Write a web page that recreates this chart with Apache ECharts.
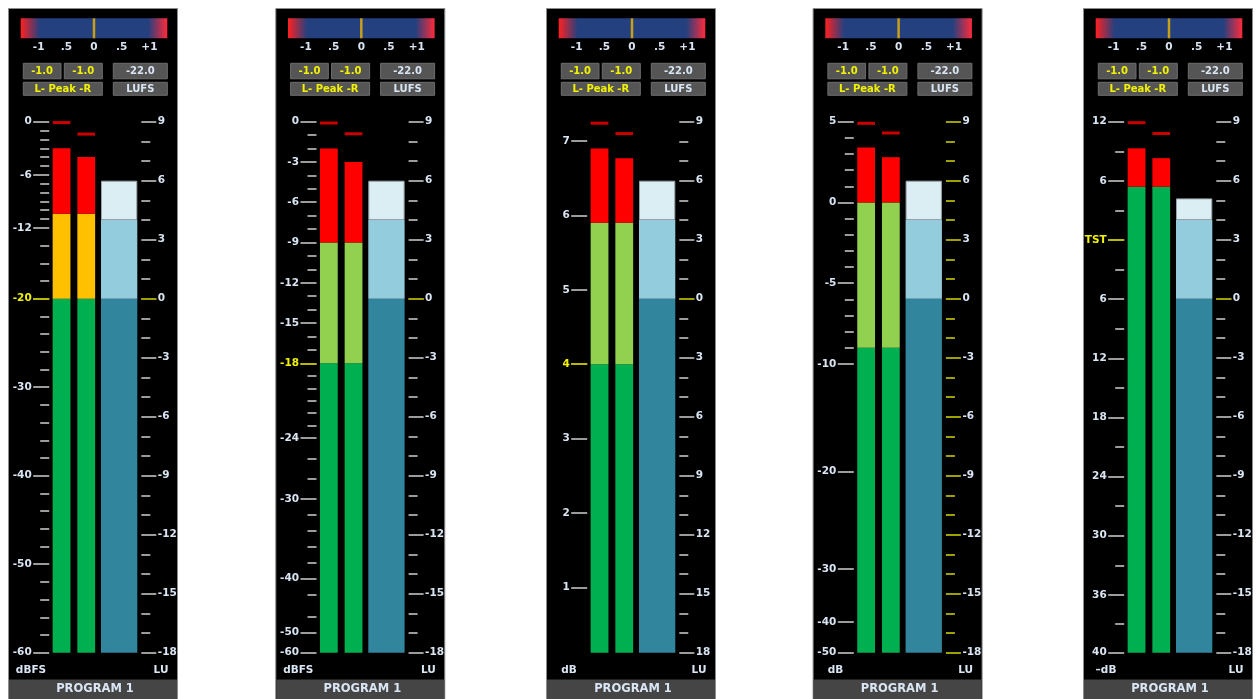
<!DOCTYPE html>
<html>
<head>
<meta charset="utf-8">
<title>Loudness meters</title>
<script src="https://cdn.jsdelivr.net/npm/echarts@6.0.0/dist/echarts.min.js"></script>
<style>
html,body{margin:0;padding:0;background:#ffffff;}
#chart{width:1257px;height:699px;}
</style>
</head>
<body>
<div id="chart"></div>
<script>
// ======================= DATA =======================
const programNames = ['PROGRAM 1', 'PROGRAM 1', 'PROGRAM 1', 'PROGRAM 1', 'PROGRAM 1'];
const leftUnits = ['dBFS', 'dBFS', 'dB', 'dB', '\u2013dB'];
const rightUnits = ['LU', 'LU', 'LU', 'LU', 'LU'];

// Peak-meter scale laws: scale value -> fraction of meter height
const scale1Marks = [-60, 0];
const scale1Frac  = [0, 1];
const scale2Marks = [-60, -50, -40, -30, -24, -18, 0];
const scale2Frac  = [0, 0.038, 0.140, 0.289, 0.404, 0.545, 1];
const scale3Marks = [0.12, 7.26];
const scale3Frac  = [0, 1];
const scale4Marks = [-50, -40, -30, -20, -10, 5];
const scale4Frac  = [0, 0.058, 0.158, 0.341, 0.544, 1];
const scale5Marks = [-40, -36, 12];
const scale5Frac  = [0, 0.109, 1];

// Labelled marks of each peak scale
const labels1 = [0, -6, -12, -20, -30, -40, -50, -60];
const labels2 = [0, -3, -6, -9, -12, -15, -18, -24, -30, -40, -50, -60];
const labels3 = [7, 6, 5, 4, 3, 2, 1];
const labels4 = [5, 0, -5, -10, -20, -30, -40, -50];
const labels5 = [12, 6, 0, -6, -12, -18, -24, -30, -36, -40];

// Unlabelled marks
const minor1 = [-1, -2, -3, -4, -5, -7, -8, -9, -10, -11, -14, -16, -18, -22, -24, -26, -28,
                -32, -34, -36, -38, -42, -44, -46, -48, -52, -54, -56, -58];
const minor2 = [-1, -2, -4, -5, -7, -8, -10, -11, -13, -14, -16, -17, -19, -20, -21, -22, -23,
                -26, -28, -32, -34, -36, -38, -43, -47];
const minor3 = [];
const minor4 = [4, 3, 2, 1, -1, -2, -3, -4, -6, -7, -8, -9];
const minor5 = [9, 3, -3, -9, -15, -21, -27, -33, -38];

// Reference level of each peak scale (yellow mark)
const refLevel = [-20, -18, 4, null, 0];
const refName  = [null, null, null, null, 'TST'];
const leftSigned  = [true, true, true, true, false];
const rightSigned = [true, true, false, true, true];

// Peak bars, peak holds and colour-zone limits (scale units)
const peakL = [-3, -2, 6.9, 3.4, 9.3];
const peakR = [-4, -3, 6.77, 2.8, 8.3];
const holdL = [-0.1, -0.1, 7.24, 4.9, 11.9];
const holdR = [-1.4, -0.9, 7.1, 4.3, 10.8];
const zoneLow  = [-20, -18, 4, -9, 5.4];
const zoneHigh = [-10.4, -9, 5.9, 0, 5.4];

// Loudness bar (LU)
const luLevel = [6, 6, 6, 6, 5.1];
const luMin = -18, luMax = 9, luStep = 3;
const luZoneLow = 0, luZoneHigh = 4;

// Correlation meter
const correlation = [0, 0, 0, 0, 0];
const corrTicks = [-1, -0.5, 0, 0.5, 1];
const corrTickText = ['-1', '.5', '0', '.5', '+1'];

// Read-outs
const readPeakL = ['-1.0', '-1.0', '-1.0', '-1.0', '-1.0'];
const readPeakR = ['-1.0', '-1.0', '-1.0', '-1.0', '-1.0'];
const readLufs  = ['-22.0', '-22.0', '-22.0', '-22.0', '-22.0'];
const readPeakTitle = 'L- Peak -R';
const readLufsTitle = 'LUFS';

// ======================= HELPERS =======================
const scaleMarks = [scale1Marks, scale2Marks, scale3Marks, scale4Marks, scale5Marks];
const scaleFracs = [scale1Frac, scale2Frac, scale3Frac, scale4Frac, scale5Frac];
const labelSets = [labels1, labels2, labels3, labels4, labels5];
const minorSets = [minor1, minor2, minor3, minor4, minor5];

function toFrac(p, v) {
  const m = scaleMarks[p], f = scaleFracs[p];
  if (v <= m[0]) return f[0];
  for (let i = 1; i < m.length; i++) {
    if (v <= m[i]) {
      const t = (v - m[i - 1]) / (m[i] - m[i - 1]);
      return f[i - 1] + t * (f[i] - f[i - 1]);
    }
  }
  return f[f.length - 1];
}

// ======================= LAYOUT / STYLE =======================
const OFFX = [0, 267.3, 538, 804.6, 1075];
const METER_TOP = 121.7, METER_H = 531;
const FONT = 'DejaVu Sans';
const TICK = '#9c9c9c';
const LABEL = '#d9e5f3';
const YEL_TXT = '#f2f200';
const YEL_TICK = '#b9b900';
const OLIVE = '#a0a000';
const C_GREEN = '#00B050', C_RED = '#FF0000';
const C_MID = ['#FFC000', '#92D050', '#92D050', '#92D050', '#92D050'];
const C_TEAL = '#31859C', C_LBLUE = '#93CDDD', C_PALE = '#DBEEF4';
const LFS = 10.5;

const grids = [], xAxes = [], yAxes = [], series = [], graphics = [];

for (let p = 0; p < 5; p++) {
  const dx = OFFX[p];
  // ---------- decorations ----------
  graphics.push({type: 'rect', z: -20, shape: {x: 8.5 + dx, y: 8.5, width: 169, height: 700},
    style: {fill: '#000000', stroke: '#8c8c8c', lineWidth: 1}});
  graphics.push({type: 'rect', z: -19, shape: {x: 20.7 + dx, y: 18.3, width: 146.6, height: 20},
    style: {fill: {type: 'linear', x: 0, y: 0, x2: 1, y2: 0, colorStops: [
      {offset: 0, color: '#ff2020'}, {offset: 0.13, color: '#24407f'},
      {offset: 0.87, color: '#24407f'}, {offset: 1, color: '#ff2a3a'}]}}});
  const boxes = [
    [23.3, 63.3, 37.7, 15.5, readPeakL[p], YEL_TXT],
    [64.3, 63.3, 38, 15.5, readPeakR[p], YEL_TXT],
    [113.3, 63.3, 54, 15.5, readLufs[p], LABEL],
    [23.3, 82.3, 79, 13, readPeakTitle, YEL_TXT],
    [113.3, 82.3, 54, 13, readLufsTitle, LABEL]
  ];
  boxes.forEach(b => {
    graphics.push({type: 'rect', z: -18, shape: {x: b[0] + dx, y: b[1], width: b[2], height: b[3]},
      style: {fill: '#555555', stroke: '#6e6e6e', lineWidth: 1}});
    graphics.push({type: 'text', z: -17, style: {text: b[4], x: b[0] + dx + b[2] / 2, y: b[1] + b[3] / 2 + 0.5,
      fill: b[5], font: 'bold 10px "' + FONT + '"', align: 'center', verticalAlign: 'middle',
      textAlign: 'center', textVerticalAlign: 'middle'}});
  });
  graphics.push({type: 'text', z: -17, style: {text: leftUnits[p], x: 31 + dx, y: 670, fill: LABEL,
    font: 'bold 10.5px "' + FONT + '"', align: 'center', verticalAlign: 'middle', textAlign: 'center', textVerticalAlign: 'middle'}});
  graphics.push({type: 'text', z: -17, style: {text: rightUnits[p], x: 161 + dx, y: 670, fill: LABEL,
    font: 'bold 10.5px "' + FONT + '"', align: 'center', verticalAlign: 'middle', textAlign: 'center', textVerticalAlign: 'middle'}});
  graphics.push({type: 'rect', z: -18, shape: {x: 9 + dx, y: 679.5, width: 168, height: 20},
    style: {fill: '#454545'}});
  graphics.push({type: 'text', z: -17, style: {text: programNames[p], x: 95 + dx, y: 689.5, fill: LABEL,
    font: 'bold 11.5px "' + FONT + '"', align: 'center', verticalAlign: 'middle', textAlign: 'center', textVerticalAlign: 'middle'}});

  // ---------- grids ----------
  const gLR = grids.length; grids.push({left: 49.2 + dx, top: METER_TOP, width: 49.4, height: METER_H});
  const gLU = grids.length; grids.push({left: 101 + dx, top: METER_TOP, width: 36.3, height: METER_H});
  const gC  = grids.length; grids.push({left: 38.6 + dx, top: 18.3, width: 110.8, height: 20});

  // ---------- x axes ----------
  const xLR = xAxes.length; xAxes.push({gridIndex: gLR, type: 'category', data: ['L', 'R'], show: false});
  const xLU = xAxes.length; xAxes.push({gridIndex: gLU, type: 'category', data: ['LU'], show: false});
  const xC = xAxes.length; xAxes.push({gridIndex: gC, type: 'value', min: -1, max: 1, position: 'bottom',
    axisLine: {show: false, onZero: false}, axisTick: {show: false}, splitLine: {show: false},
    axisLabel: {customValues: corrTicks, margin: 3, color: LABEL, fontSize: LFS, fontWeight: 'bold', fontFamily: FONT,
      formatter: v => corrTickText[corrTicks.indexOf(v)] ?? String(v)}});

  // ---------- y axes ----------
  const labs = labelSets[p];
  const labFracs = labs.map(v => toFrac(p, v));
  const labText = v => {
    if (refName[p] !== null && v === refLevel[p]) return refName[p];
    return String(leftSigned[p] ? v : Math.abs(v));
  };
  const nearestLab = f => {
    let best = 0, bd = 1e9;
    labFracs.forEach((lf, i) => { const d = Math.abs(lf - f); if (d < bd) { bd = d; best = i; } });
    return labs[best];
  };
  const yPeak = yAxes.length;
  yAxes.push({gridIndex: gLR, type: 'value', min: 0, max: 1, position: 'left', offset: 0,
    axisLine: {show: false, onZero: false}, splitLine: {show: false},
    axisTick: {show: true, length: 16, customValues: labFracs, lineStyle: {color: TICK, width: 2}},
    axisLabel: {customValues: labFracs, margin: 17.5, fontSize: LFS, fontWeight: 'bold', fontFamily: FONT,
      formatter: f => labText(nearestLab(f)),
      color: f => (refLevel[p] !== null && nearestLab(f) === refLevel[p]) ? YEL_TXT : LABEL}});
  const minors = minorSets[p];
  yAxes.push({gridIndex: gLR, type: 'value', min: 0, max: 1, position: 'left', offset: 0,
    axisLine: {show: false, onZero: false}, splitLine: {show: false}, axisLabel: {show: false},
    axisTick: {show: minors.length > 0, length: 9, customValues: minors.length ? minors.map(v => toFrac(p, v)) : [0],
      lineStyle: {color: TICK, width: 2}}});
  yAxes.push({gridIndex: gLR, type: 'value', min: 0, max: 1, position: 'left', offset: 0, z: 5,
    axisLine: {show: false, onZero: false}, splitLine: {show: false}, axisLabel: {show: false},
    axisTick: {show: refLevel[p] !== null, length: 16, customValues: [refLevel[p] !== null ? toFrac(p, refLevel[p]) : 0],
      lineStyle: {color: YEL_TICK, width: 2}}});

  const rTick = p === 3 ? OLIVE : TICK;
  const yLU = yAxes.length;
  yAxes.push({gridIndex: gLU, type: 'value', min: luMin, max: luMax, interval: luStep, position: 'right', offset: 4,
    axisLine: {show: false, onZero: false}, splitLine: {show: false}, minorSplitLine: {show: false},
    axisTick: {show: true, length: 15, lineStyle: {color: rTick, width: 2}},
    minorTick: {show: true, splitNumber: 3, length: 9, lineStyle: {color: rTick, width: 2}},
    axisLabel: {margin: 16.5, fontSize: LFS, fontWeight: 'bold', fontFamily: FONT,
      formatter: v => String(rightSigned[p] ? v : Math.abs(v)),
      color: v => v === 0 ? YEL_TXT : LABEL}});
  yAxes.push({gridIndex: gLU, type: 'value', min: luMin, max: luMax, position: 'right', offset: 4, z: 5,
    axisLine: {show: false, onZero: false}, splitLine: {show: false}, axisLabel: {show: false},
    axisTick: {show: true, length: 15, customValues: [0], lineStyle: {color: OLIVE, width: 2}}});
  const yC = yAxes.length;
  yAxes.push({gridIndex: gC, type: 'category', data: ['corr'], show: false});

  // ---------- series ----------
  const peaks = [peakL[p], peakR[p]];
  const fLow = toFrac(p, zoneLow[p]), fHigh = toFrac(p, zoneHigh[p]);
  const segG = peaks.map(v => Math.min(toFrac(p, v), fLow));
  const segM = peaks.map(v => Math.max(0, Math.min(toFrac(p, v), fHigh) - fLow));
  const segR = peaks.map(v => Math.max(0, toFrac(p, v) - Math.max(fHigh, fLow)));
  const common = {type: 'bar', xAxisIndex: xLR, yAxisIndex: yPeak, stack: 'peak' + p, barWidth: '72%', silent: true};
  series.push(Object.assign({}, common, {name: 'low', data: segG, itemStyle: {color: C_GREEN}}));
  series.push(Object.assign({}, common, {name: 'mid', data: segM, itemStyle: {color: C_MID[p]}}));
  series.push(Object.assign({}, common, {name: 'high', data: segR, itemStyle: {color: C_RED}}));
  series.push({type: 'scatter', xAxisIndex: xLR, yAxisIndex: yPeak, silent: true, z: 4,
    data: [toFrac(p, holdL[p]), toFrac(p, holdR[p])], symbol: 'rect', symbolSize: [17.7, 3],
    itemStyle: {color: C_RED}});

  const lu = luLevel[p];
  const luCommon = {type: 'bar', xAxisIndex: xLU, yAxisIndex: yLU, stack: 'lu' + p, barWidth: '100%', silent: true};
  // lower zone: from the meter floor up to the zone boundary (drawn below the 0 LU base)
  series.push(Object.assign({}, luCommon, {data: [luMin - luZoneLow], itemStyle: {color: C_TEAL}}));
  series.push(Object.assign({}, luCommon, {data: [Math.max(0, Math.min(lu, luZoneHigh) - luZoneLow)], itemStyle: {color: C_LBLUE}}));
  series.push(Object.assign({}, luCommon, {data: [Math.max(0, lu - luZoneHigh)],
    itemStyle: {color: C_PALE, borderColor: '#9aa4a8', borderWidth: 1}}));

  series.push({type: 'scatter', xAxisIndex: xC, yAxisIndex: yC, silent: true,
    data: [[correlation[p], 0]], symbol: 'rect', symbolSize: [2.5, 20], itemStyle: {color: '#F2B600'}});
}

const chart = echarts.init(document.getElementById('chart'), null, {renderer: 'canvas'});
chart.setOption({
  animation: false,
  backgroundColor: '#ffffff',
  textStyle: {fontFamily: FONT},
  grid: grids,
  xAxis: xAxes,
  yAxis: yAxes,
  series: series,
  graphic: {elements: graphics}
});
</script>
</body>
</html>
